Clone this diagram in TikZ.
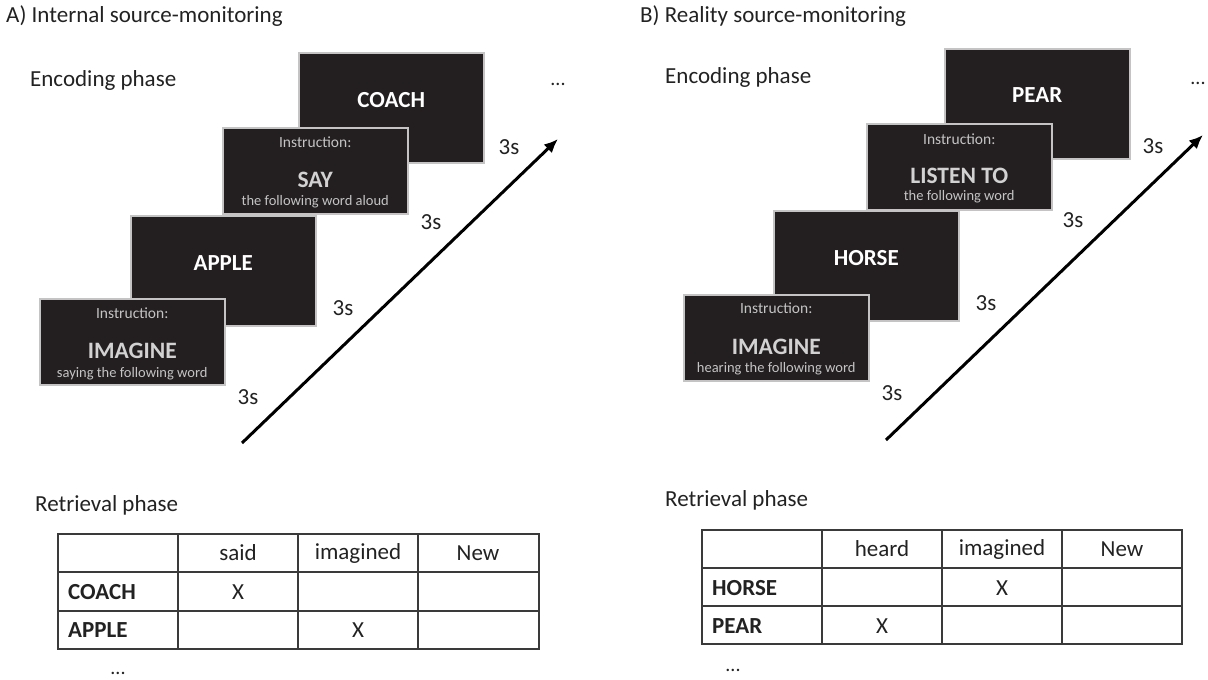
\documentclass[tikz,border=0pt]{standalone}
\usepackage{fontspec}
\setmainfont{Carlito}
\usetikzlibrary{arrows.meta,calc}
\definecolor{scr}{HTML}{231F20}
\definecolor{frm}{HTML}{C4C4C4}
\definecolor{gtxt}{HTML}{C4C4C4}
\definecolor{ctxt}{HTML}{D2D2D2}
\definecolor{ink}{HTML}{222222}
\definecolor{grid}{HTML}{3A3A3A}
\begin{document}
\begin{tikzpicture}[x=1pt,y=-1pt,
  screen/.style={draw=frm, line width=1.5pt, fill=scr, rectangle, anchor=north west, inner sep=0pt, minimum width=185pt},
  tallscr/.style={screen, minimum height=110pt},
  shortscr/.style={screen, minimum height=86pt},
  word/.style={text=white, font=\fontsize{23}{27}\selectfont\bfseries, inner sep=0pt},
  cue/.style={text=ctxt, font=\fontsize{23.5}{27}\selectfont\bfseries, inner sep=0pt},
  instr/.style={text=gtxt, font=\fontsize{15.5}{18}\selectfont, inner sep=0pt},
  subtxt/.style={text=gtxt, font=\fontsize{14.5}{17}\selectfont, inner sep=0pt},
  lbl/.style={text=ink, font=\fontsize{23}{27}\selectfont, inner sep=0pt, anchor=base west},
  dur/.style={text=ink, font=\fontsize{23}{27}\selectfont, inner sep=0pt},
  dots/.style={text=ink, font=\fontsize{20}{24}\selectfont, inner sep=0pt},
  cell/.style={text=ink, font=\fontsize{23}{27}\selectfont, inner sep=0pt},
  rowlbl/.style={text=ink, font=\fontsize{23}{27}\selectfont\bfseries, inner sep=0pt, anchor=west},
  gridline/.style={draw=grid, line width=1.3pt},
  timearrow/.style={draw=black, line width=3pt, -{Latex[length=14pt,width=12pt]}}
]
\useasboundingbox (0,0) rectangle (1208,680);

%% ---------- Panel A ----------
\node[lbl] (titleA) at (6,23) {A) Internal source-monitoring};
\node[lbl] (encA) at (30,86) {Encoding phase};

\node[tallscr] (coach) at (298,52) {};
\node[word] (coachw) at ($(coach.north)+(0,48)$) {COACH};
\node[shortscr] (say) at (222,127) {};
\node[instr] (sayi) at ($(say.north)+(0,15)$) {Instruction:};
\node[cue] (sayc) at ($(say.north)+(0,53)$) {SAY};
\node[subtxt] (says) at ($(say.north)+(0,75)$) {the following word aloud};
\node[tallscr] (apple) at (130,215) {};
\node[word] (applew) at ($(apple.north)+(0,48)$) {APPLE};
\node[shortscr] (imA) at (39,298) {};
\node[instr] (imAi) at ($(imA.north)+(0,15)$) {Instruction:};
\node[cue] (imAc) at ($(imA.north)+(0,53)$) {IMAGINE};
\node[subtxt] (imAs) at ($(imA.north)+(0,76)$) {saying the following word};

\node[dur] (dA1) at (509,147) {3s};
\node[dur] (dA2) at (431,222) {3s};
\node[dur] (dA3) at (343,308) {3s};
\node[dur] (dA4) at (248,397) {3s};
\node[dots] (dotsA) at (558,84) {...};

\coordinate (aA0) at (242,443);
\coordinate (aA1) at (558,139);
\draw[timearrow] (aA0) -- (aA1);

\node[lbl] (retA) at (35,511) {Retrieval phase};
\draw[gridline] (58,534) rectangle (539,649);
\draw[gridline] (58,572) -- (539,572);
\draw[gridline] (58,611) -- (539,611);
\draw[gridline] (178,534) -- (178,649);
\draw[gridline] (298,534) -- (298,649);
\draw[gridline] (418,534) -- (418,649);
\node[cell] (hA1) at (238,553) {said};
\node[cell] (hA2) at (358,553) {imagined};
\node[cell] (hA3) at (478,553) {New};
\node[rowlbl] (rA1) at (68,592) {COACH};
\node[rowlbl] (rA2) at (68,630) {APPLE};
\node[cell] (xA1) at (238,592) {X};
\node[cell] (xA2) at (358,630) {X};
\node[dots] (dotsA2) at (118,673) {...};

%% ---------- Panel B ----------
\node[lbl] (titleB) at (640,23) {B) Reality source-monitoring};
\node[lbl] (encB) at (665,83) {Encoding phase};

\node[tallscr] (pear) at (944,48) {};
\node[word] (pearw) at ($(pear.north)+(0,47)$) {PEAR};
\node[shortscr] (lis) at (866,123) {};
\node[instr] (lisi) at ($(lis.north)+(0,16)$) {Instruction:};
\node[cue] (lisc) at ($(lis.north)+(0,53)$) {LISTEN TO};
\node[subtxt] (liss) at ($(lis.north)+(0,74)$) {the following word};
\node[tallscr] (horse) at (773,210) {};
\node[word] (horsew) at ($(horse.north)+(0,48)$) {HORSE};
\node[shortscr] (imB) at (683,294) {};
\node[instr] (imBi) at ($(imB.north)+(0,14)$) {Instruction:};
\node[cue] (imBc) at ($(imB.north)+(0,53)$) {IMAGINE};
\node[subtxt] (imBs) at ($(imB.north)+(0,75)$) {hearing the following word};

\node[dur] (dB1) at (1153,146) {3s};
\node[dur] (dB2) at (1073,220) {3s};
\node[dur] (dB3) at (986,303) {3s};
\node[dur] (dB4) at (892,393) {3s};
\node[dots] (dotsB) at (1198,83) {...};

\coordinate (aB0) at (886,440);
\coordinate (aB1) at (1203,135);
\draw[timearrow] (aB0) -- (aB1);

\node[lbl] (retB) at (665,506) {Retrieval phase};
\draw[gridline] (702,530) rectangle (1182,644);
\draw[gridline] (702,568) -- (1182,568);
\draw[gridline] (702,606) -- (1182,606);
\draw[gridline] (822,530) -- (822,644);
\draw[gridline] (942,530) -- (942,644);
\draw[gridline] (1062,530) -- (1062,644);
\node[cell] (hB1) at (882,549) {heard};
\node[cell] (hB2) at (1002,549) {imagined};
\node[cell] (hB3) at (1122,549) {New};
\node[rowlbl] (rB1) at (712,588) {HORSE};
\node[rowlbl] (rB2) at (712,626) {PEAR};
\node[cell] (xB1) at (1002,588) {X};
\node[cell] (xB2) at (882,626) {X};
\node[dots] (dotsB2) at (733,670) {...};
\end{tikzpicture}
\end{document}
